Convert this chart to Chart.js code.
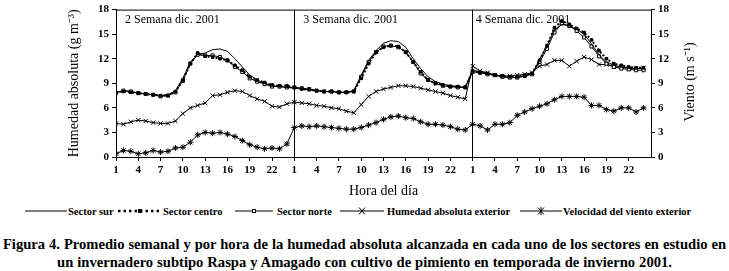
<!DOCTYPE html>
<html>
<head>
<meta charset="utf-8">
<script src="https://cdn.jsdelivr.net/npm/chart.js@4.4.1/dist/chart.umd.min.js"></script>
<style>
  html, body { margin: 0; padding: 0; background: #fff; }
  #wrap { position: relative; width: 729px; height: 271px; font-family: "Liberation Serif", serif; color: #000; }
  #box { position: absolute; left: 0; top: 0; width: 729px; height: 200px; }
  .leg { position: absolute; top: 204px; height: 14px; display: flex; align-items: center; font-size: 10.5px; font-weight: bold; white-space: nowrap; }
  .leg svg { display: block; margin-right: 1px; }
  #cap { position: absolute; left: 0; top: 235px; width: 729px; text-align: center; font-weight: bold; font-size: 14.6px; word-spacing: 0.3px; line-height: 18px; white-space: nowrap; }
</style>
</head>
<body>
<div id="wrap">
  <div id="box"><canvas id="humedadChart"></canvas></div>
  <div class="leg" style="left:25px"><svg width="42" height="10"><line x1="0" y1="5" x2="42" y2="5" stroke="#000" stroke-width="1"/></svg>Sector sur</div>
  <div class="leg" style="left:118px"><svg width="44" height="10"><line x1="0" y1="5" x2="44" y2="5" stroke="#000" stroke-width="2.5" stroke-dasharray="2.5,3"/><rect x="20" y="3" width="4" height="4" fill="#000"/></svg>Sector centro</div>
  <div class="leg" style="left:235px"><svg width="41" height="10"><line x1="0" y1="5" x2="38" y2="5" stroke="#000"/><rect x="17.5" y="3.5" width="3" height="3" fill="#fff" stroke="#000"/></svg>Sector norte</div>
  <div class="leg" style="left:340px"><svg width="46" height="10"><line x1="0" y1="5" x2="44" y2="5" stroke="#000"/><path d="M19 1.5 L25 8.5 M25 1.5 L19 8.5" stroke="#000"/></svg>Humedad absoluta exterior</div>
  <div class="leg" style="left:520px"><svg width="42" height="10"><line x1="0" y1="5" x2="42" y2="5" stroke="#000"/><path d="M18 1.5 L24 8.5 M24 1.5 L18 8.5 M21 1 L21 9" stroke="#000"/></svg>Velocidad del viento exterior</div>
  <div id="cap">Figura 4. Promedio semanal y por hora de la humedad absoluta alcanzada en cada uno de los sectores en estudio en<br>un invernadero subtipo Raspa y Amagado con cultivo de pimiento en temporada de invierno 2001.</div>
</div>
<script>
  'use strict';

  // Semanas 2, 3 y 4 de diciembre 2001, 24 horas cada una
  var semanas = ['2 Semana dic. 2001', '3 Semana dic. 2001', '4 Semana dic. 2001'];
  var horasTick = [1, 4, 7, 10, 13, 16, 19, 22];

  var sectorSur = [
    7.9, 8.1, 8.0, 7.8, 7.7, 7.6, 7.5, 7.6, 8.1, 9.6, 11.6, 12.5, 12.7, 13.1, 13.2, 12.9, 12.0, 11.0, 10.0, 9.4, 9.0, 8.7, 8.6, 8.5,
    8.4, 8.3, 8.2, 8.1, 8.0, 8.0, 7.9, 7.9, 8.1, 10.0, 11.8, 13.0, 13.9, 14.2, 14.1, 13.4, 12.0, 10.8, 9.8, 9.2, 8.9, 8.7, 8.6, 8.5,
    10.6, 10.4, 10.2, 10.0, 9.8, 9.7, 9.7, 9.9, 10.2, 11.9, 13.6, 15.5, 16.2, 16.0, 15.6, 15.0, 13.8, 12.5, 11.6, 11.2, 11.0, 10.9, 10.8, 10.8
  ];
  var sectorCentro = [
    7.9, 8.0, 7.9, 7.8, 7.7, 7.6, 7.5, 7.5, 8.0, 9.4, 11.4, 12.7, 12.3, 12.2, 12.0, 11.8, 11.2, 10.6, 9.8, 9.4, 9.1, 8.8, 8.7, 8.7,
    8.5, 8.3, 8.2, 8.1, 8.0, 8.0, 7.9, 7.9, 8.0, 9.6, 11.4, 12.8, 13.4, 13.6, 13.5, 12.8, 11.6, 10.4, 9.4, 9.0, 8.8, 8.6, 8.6, 8.5,
    10.5, 10.3, 10.2, 10.0, 9.9, 9.8, 9.8, 10.0, 10.2, 11.8, 13.6, 15.8, 16.6, 16.2, 15.7, 15.2, 14.3, 13.0, 12.0, 11.4, 11.2, 11.0, 10.9, 10.9
  ];
  var sectorNorte = [
    7.8, 8.1, 8.0, 7.8, 7.7, 7.6, 7.4, 7.5, 7.9, 9.3, 11.4, 12.5, 12.4, 12.4, 12.2, 11.8, 11.0, 10.4, 9.6, 9.2, 8.9, 8.6, 8.6, 8.5,
    8.5, 8.4, 8.3, 8.1, 8.0, 8.0, 7.9, 7.9, 8.0, 9.8, 11.6, 12.8, 13.5, 13.6, 13.4, 12.8, 11.6, 10.2, 9.4, 9.0, 8.7, 8.6, 8.5, 8.5,
    10.4, 10.3, 10.1, 10.0, 9.8, 9.7, 9.7, 9.9, 10.1, 11.6, 13.2, 15.2, 16.3, 16.0, 15.4, 14.6, 13.5, 12.3, 11.4, 11.0, 10.8, 10.7, 10.6, 10.6
  ];
  var humedadExterior = [
    4.1, 4.0, 4.3, 4.5, 4.4, 4.2, 4.1, 4.1, 4.4, 5.3, 6.0, 6.3, 6.6, 7.5, 7.6, 7.9, 8.1, 8.0, 7.5, 7.1, 6.8, 6.2, 6.1, 6.5,
    6.7, 6.6, 6.5, 6.3, 6.2, 6.0, 5.9, 5.6, 5.4, 6.4, 7.4, 8.0, 8.3, 8.5, 8.7, 8.7, 8.6, 8.4, 8.2, 8.0, 7.8, 7.5, 7.3, 7.1,
    11.1, 10.5, 10.3, 10.0, 9.9, 9.9, 10.0, 10.1, 10.3, 11.1, 11.3, 11.8, 11.8, 11.1, 11.7, 12.2, 11.9, 11.3, 11.3, 11.0, 11.0, 10.8, 10.8, 10.9
  ];
  var vientoExterior = [
    0.4, 0.8, 0.7, 0.4, 0.5, 0.8, 0.6, 0.7, 1.1, 1.2, 1.8, 2.7, 3.0, 2.9, 3.0, 2.8, 2.5, 2.0, 1.5, 1.2, 1.0, 1.1, 1.0, 1.6,
    3.6, 3.8, 3.7, 3.8, 3.7, 3.6, 3.5, 3.4, 3.4, 3.6, 3.9, 4.2, 4.6, 4.9, 5.0, 4.8, 4.7, 4.3, 4.0, 4.0, 3.9, 3.7, 3.4, 3.3,
    4.0, 3.8, 3.3, 4.0, 4.0, 4.2, 5.1, 5.5, 5.9, 6.2, 6.5, 7.0, 7.4, 7.4, 7.4, 7.3, 6.3, 6.3, 5.8, 5.6, 6.0, 6.0, 5.5, 6.0
  ];

  var serie = function (valores) {
    return valores.map(function (v, i) { return { x: i, y: v }; });
  };

  var fuente = '"Liberation Serif", "Times New Roman", serif';

  // marco superior, titulos de semana y titulo del eje derecho
  var marco = {
    id: 'marco',
    afterDraw: function (chart) {
      var a = chart.chartArea;
      var c = chart.ctx;
      var xs = chart.scales.x;
      c.save();
      c.strokeStyle = '#000';
      c.lineWidth = 1;
      c.beginPath();
      c.moveTo(a.left, a.top + 0.5);
      c.lineTo(a.right, a.top + 0.5);
      c.stroke();
      c.fillStyle = '#000';
      c.font = '12px ' + fuente;
      c.textBaseline = 'middle';
      semanas.forEach(function (s, k) {
        c.fillText(s, xs.getPixelForValue(24 * k) + (k === 2 ? 3 : 9), a.top + 10);
      });
      c.translate(690, 82);
      c.rotate(-Math.PI / 2);
      c.textAlign = 'center';
      c.font = '14px ' + fuente;
      c.fillText('Viento (m s\u207B\u00B9)', 0, 0);
      c.restore();
    }
  };

  var ctx = document.getElementById('humedadChart');

  new Chart(ctx, {
    type: 'line',
    data: {
      datasets: [
        {
          label: 'Sector sur',
          data: serie(sectorSur),
          borderColor: '#000',
          borderWidth: 1,
          pointRadius: 0,
          yAxisID: 'y'
        },
        {
          label: 'Sector centro',
          data: serie(sectorCentro),
          borderColor: '#000',
          backgroundColor: '#000',
          borderWidth: 2,
          borderDash: [2, 2],
          pointStyle: 'rect',
          pointRadius: 1.8,
          pointBorderWidth: 1,
          yAxisID: 'y'
        },
        {
          label: 'Sector norte',
          data: serie(sectorNorte),
          borderColor: '#000',
          backgroundColor: '#fff',
          borderWidth: 1,
          pointStyle: 'rect',
          pointRadius: 2.2,
          pointBorderWidth: 1,
          yAxisID: 'y'
        },
        {
          label: 'Humedad absoluta exterior',
          data: serie(humedadExterior),
          borderColor: '#000',
          backgroundColor: '#fff',
          borderWidth: 1,
          pointStyle: 'crossRot',
          pointRadius: 3,
          pointBorderWidth: 1,
          yAxisID: 'y'
        },
        {
          label: 'Velocidad del viento exterior',
          data: serie(vientoExterior),
          borderColor: '#000',
          backgroundColor: '#fff',
          borderWidth: 1,
          pointStyle: 'star',
          pointRadius: 3,
          pointBorderWidth: 1,
          yAxisID: 'y2'
        }
      ]
    },
    options: {
      responsive: true,
      maintainAspectRatio: false,
      animation: false,
      layout: { padding: { top: 9, left: 0, right: 0, bottom: 0 } },
      plugins: {
        legend: { display: false },
        tooltip: { enabled: false }
      },
      scales: {
        x: {
          type: 'linear',
          min: 0,
          max: 72,
          afterBuildTicks: function (scale) {
            var t = [];
            semanas.forEach(function (s, k) {
              horasTick.forEach(function (h) { t.push({ value: 24 * k + h - 1 }); });
            });
            scale.ticks = t;
          },
          afterFit: function (scale) { scale.height = 43; },
          border: { display: true, color: '#000', width: 1 },
          grid: {
            color: function (c) {
              return (c.tick && (c.tick.value === 24 || c.tick.value === 48)) ? '#000' : 'rgba(0,0,0,0)';
            },
            tickColor: '#000',
            tickLength: 4,
            lineWidth: 1
          },
          ticks: {
            autoSkip: false,
            maxRotation: 0,
            padding: 3,
            color: '#000',
            font: { family: fuente, size: 11, weight: 'bold' },
            callback: function (v) { return (v % 24) + 1; }
          },
          title: {
            display: true,
            text: 'Hora del d\u00EDa',
            color: '#000',
            font: { family: fuente, size: 14 },
            padding: { top: 0, bottom: 0 }
          }
        },
        y: {
          position: 'left',
          min: 0,
          max: 18,
          afterFit: function (scale) { scale.width = 116; },
          border: { display: true, color: '#000', width: 1 },
          grid: { drawOnChartArea: false, tickColor: '#000', tickLength: 4 },
          ticks: {
            stepSize: 3,
            padding: 3,
            color: '#000',
            font: { family: fuente, size: 11, weight: 'bold' }
          },
          title: {
            display: true,
            text: 'Humedad absoluta (g m\u207B\u00B3)',
            color: '#000',
            font: { family: fuente, size: 14 },
            padding: { top: 66, bottom: 0 }
          }
        },
        y2: {
          position: 'right',
          min: 0,
          max: 18,
          afterFit: function (scale) { scale.width = 78; },
          border: { display: true, color: '#000', width: 1 },
          grid: { drawOnChartArea: false, tickColor: '#000', tickLength: 4 },
          ticks: {
            stepSize: 3,
            padding: 3,
            color: '#000',
            font: { family: fuente, size: 11, weight: 'bold' }
          }
        }
      }
    },
    plugins: [marco]
  });
</script>
</body>
</html>
